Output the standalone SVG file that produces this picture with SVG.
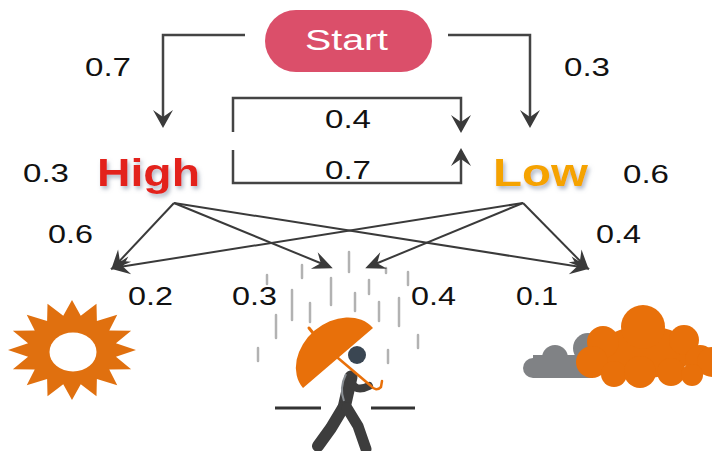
<svg xmlns="http://www.w3.org/2000/svg" width="712" height="451" viewBox="0 0 712 451">
  <defs>
    <style>
      .lbl { font-family: "Liberation Sans", Arial, sans-serif; font-size: 26px; fill: #111; }
      .state { font-family: "Liberation Sans", Arial, sans-serif; font-size: 39px; font-weight: bold; }
      .edge { fill: none; stroke: #444; stroke-width: 2.5; }
      .cross { fill: none; stroke: #3a3a3a; stroke-width: 2; }
      .rain { stroke: #a5a5a5; stroke-width: 2.5; stroke-linecap: round; opacity: 0.85; }
      .ground { stroke: #333; stroke-width: 3; }
      .body { fill: none; stroke: #3d3d3d; stroke-linecap: round; stroke-linejoin: round; }
    </style>
    <marker id="arrow" viewBox="-19 -11 20 22" refX="-3" refY="0" markerWidth="20" markerHeight="22" markerUnits="userSpaceOnUse" orient="auto">
      <path d="M0,0 L-18,-10 L-11,0 L-18,10 Z" fill="#3a3a3a"/>
    </marker>
    <marker id="arrowS" viewBox="-21 -10 22 20" refX="-3" refY="0" markerWidth="22" markerHeight="20" markerUnits="userSpaceOnUse" orient="auto">
      <path d="M0,0 L-20,-9 L-13,0 L-20,9 Z" fill="#3a3a3a"/>
    </marker>
    <filter id="glow" x="-20%" y="-20%" width="140%" height="160%">
      <feDropShadow dx="2" dy="3" stdDeviation="2" flood-color="#7c8aa0" flood-opacity="0.6"/>
    </filter>
  </defs>

  <rect width="712" height="451" fill="#ffffff"/>

  <!-- Start node -->
  <g id="start">
    <rect x="265" y="10" width="167" height="62" rx="31" fill="#db4f6a"/>
    <text x="305" y="50" font-family="Liberation Sans, Arial, sans-serif" font-size="29" fill="#fff" textLength="83" lengthAdjust="spacingAndGlyphs">Start</text>
  </g>

  <!-- Hidden states -->
  <g id="high">
    <text class="state" x="97" y="186" fill="#e3241a" filter="url(#glow)" textLength="103" lengthAdjust="spacingAndGlyphs">High</text>
  </g>
  <g id="low">
    <text class="state" x="493" y="186" fill="#f5a300" filter="url(#glow)" textLength="95" lengthAdjust="spacingAndGlyphs">Low</text>
  </g>

  <!-- Observations: sunny -->
  <g id="sunny">
    <polygon fill="#e0700f" transform="translate(72,350) scale(64,50)" points="0,-1 0.1366,-0.6866 0.3827,-0.9239 0.3889,-0.5821 0.7071,-0.7071 0.5821,-0.3889 0.9239,-0.3827 0.6866,-0.1366 1,0 0.6866,0.1366 0.9239,0.3827 0.5821,0.3889 0.7071,0.7071 0.3889,0.5821 0.3827,0.9239 0.1366,0.6866 0,1 -0.1366,0.6866 -0.3827,0.9239 -0.3889,0.5821 -0.7071,0.7071 -0.5821,0.3889 -0.9239,0.3827 -0.6866,0.1366 -1,0 -0.6866,-0.1366 -0.9239,-0.3827 -0.5821,-0.3889 -0.7071,-0.7071 -0.3889,-0.5821 -0.3827,-0.9239 -0.1366,-0.6866"/>
    <ellipse cx="73" cy="352" rx="23.5" ry="19.5" fill="#ffffff"/>
  </g>

  <!-- Observations: rainy -->
  <g id="rainy">
    <g class="rain">
      <line x1="349" y1="252" x2="349" y2="272"/>
      <line x1="302" y1="265" x2="302" y2="278"/>
      <line x1="267" y1="275" x2="267" y2="284"/>
      <line x1="331" y1="278" x2="331" y2="305"/>
      <line x1="292" y1="290" x2="292" y2="320"/>
      <line x1="310" y1="303" x2="310" y2="322"/>
      <line x1="276" y1="315" x2="276" y2="338"/>
      <line x1="258" y1="348" x2="258" y2="361"/>
      <line x1="355" y1="293" x2="355" y2="311"/>
      <line x1="369" y1="280" x2="369" y2="294"/>
      <line x1="386" y1="268" x2="386" y2="273"/>
      <line x1="408" y1="272" x2="408" y2="285"/>
      <line x1="379" y1="302" x2="379" y2="321"/>
      <line x1="399" y1="298" x2="399" y2="326"/>
      <line x1="418" y1="335" x2="418" y2="348"/>
      <line x1="388" y1="350" x2="388" y2="363"/>
    </g>
    <line class="ground" x1="275" y1="408" x2="321" y2="408"/>
    <line class="ground" x1="371" y1="408" x2="415" y2="408"/>
    <!-- walker -->
    <path class="body" stroke-width="13" d="M351,377 L344,408"/>
    <path class="body" stroke-width="12" d="M343,408 L331,428 L318,446"/>
    <path class="body" stroke-width="11" d="M347,408 L358,426 L366,449"/>
    <path class="body" stroke-width="8" d="M351,381 Q355,393 369,386"/>
    <path d="M346,374 Q339,388 344,401" fill="none" stroke="#8a8f94" stroke-width="2"/>
    <circle cx="357" cy="355" r="9" fill="#3a4652"/>
    <!-- umbrella -->
    <path d="M338,358 L371,386 Q376,392 381,387 L382,381" fill="none" stroke="#e8700a" stroke-width="2.5" stroke-linecap="round"/>
    <path d="M373,328 A46,36 -40.6 0 0 303,388 Z" fill="#e8700a"/>
    <path d="M313,333 L309,328" stroke="#e8700a" stroke-width="3" stroke-linecap="round"/>
  </g>

  <!-- Observations: cloudy -->
  <g id="cloudy">
    <g fill="#808285">
      <circle cx="533" cy="368" r="10"/>
      <circle cx="555" cy="358" r="13"/>
      <circle cx="588" cy="348" r="15"/>
      <rect x="533" y="355" width="60" height="23"/>
    </g>
    <g fill="#e8700a">
      <ellipse cx="645" cy="352" rx="48" ry="26"/>
      <circle cx="643" cy="327" r="22"/>
      <circle cx="603" cy="342" r="16"/>
      <circle cx="592" cy="362" r="16"/>
      <circle cx="614" cy="374" r="13"/>
      <circle cx="640" cy="372" r="16"/>
      <circle cx="671" cy="372" r="14"/>
      <circle cx="684" cy="340" r="15"/>
      <circle cx="700" cy="360" r="15"/>
      <circle cx="712" cy="362" r="15"/>
      <circle cx="692" cy="375" r="11"/>
    </g>
  </g>

  <!-- Connectors -->
  <g id="connectors">
    <path class="edge" d="M245,35 H163 V125" marker-end="url(#arrow)"/>
    <path class="edge" d="M448,35 H530 V125" marker-end="url(#arrow)"/>
    <path class="edge" d="M233,132 V98 H461 V130" marker-end="url(#arrow)"/>
    <path class="edge" d="M233,150 V183 H461 V151" marker-end="url(#arrow)"/>
    <line class="cross" x1="174" y1="203" x2="113" y2="268" marker-end="url(#arrowS)"/>
    <line class="cross" x1="174" y1="203" x2="330" y2="267" marker-end="url(#arrowS)"/>
    <line class="cross" x1="174" y1="203" x2="587" y2="268" marker-end="url(#arrowS)"/>
    <line class="cross" x1="523" y1="203" x2="113" y2="268" marker-end="url(#arrowS)"/>
    <line class="cross" x1="523" y1="203" x2="368" y2="267" marker-end="url(#arrowS)"/>
    <line class="cross" x1="523" y1="203" x2="587" y2="268" marker-end="url(#arrowS)"/>
  </g>

  <!-- Probability labels -->
  <g id="labels">
    <text class="lbl" x="85" y="76" textLength="46" lengthAdjust="spacingAndGlyphs">0.7</text>
    <text class="lbl" x="564" y="76" textLength="46" lengthAdjust="spacingAndGlyphs">0.3</text>
    <text class="lbl" x="325" y="128" textLength="46" lengthAdjust="spacingAndGlyphs">0.4</text>
    <text class="lbl" x="325" y="179" textLength="46" lengthAdjust="spacingAndGlyphs">0.7</text>
    <text class="lbl" x="23" y="182" textLength="46" lengthAdjust="spacingAndGlyphs">0.3</text>
    <text class="lbl" x="623" y="183" textLength="46" lengthAdjust="spacingAndGlyphs">0.6</text>
    <text class="lbl" x="48" y="243" textLength="45" lengthAdjust="spacingAndGlyphs">0.6</text>
    <text class="lbl" x="596" y="243" textLength="45" lengthAdjust="spacingAndGlyphs">0.4</text>
    <text class="lbl" x="128" y="305" textLength="45" lengthAdjust="spacingAndGlyphs">0.2</text>
    <text class="lbl" x="232" y="305" textLength="45" lengthAdjust="spacingAndGlyphs">0.3</text>
    <text class="lbl" x="411" y="305" textLength="45" lengthAdjust="spacingAndGlyphs">0.4</text>
    <text class="lbl" x="516" y="305" textLength="42" lengthAdjust="spacingAndGlyphs">0.1</text>
  </g>
</svg>
